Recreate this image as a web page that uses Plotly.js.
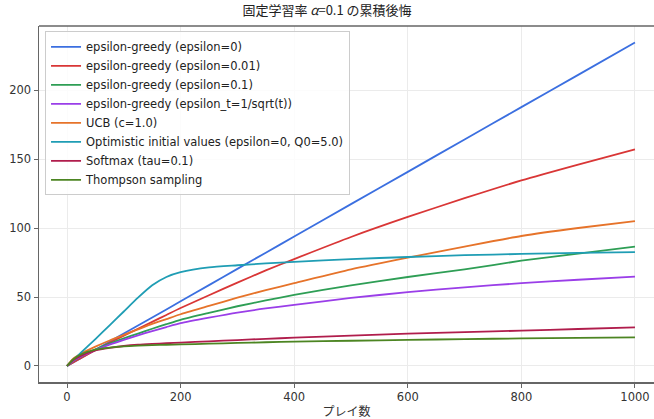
<!DOCTYPE html>
<html>
<head>
<meta charset="utf-8">
<script src="https://cdn.plot.ly/plotly-3.0.1.min.js"></script>
<style>html,body{margin:0;padding:0;background:#fff}#chart{width:654px;height:419px}</style>
</head>
<body>
<div id="chart"></div>
<script>
const plays = [0,10,25,50,75,100,125,150,175,200,250,300,350,400,500,600,700,800,900,1000];

const greedy0     = [0,2.4,5.9,11.7,17.6,23.5,29.3,35.2,41.0,46.9,58.6,70.4,82.1,93.8,117.3,140.7,164.2,187.6,211.0,234.5];
const greedy001   = [0,2.4,5.8,11.4,16.8,22.0,27.0,32.0,37.0,42.0,51.3,60.4,69.3,77.5,93.5,108.0,121.6,134.5,146.0,157.0];
const greedy01    = [0,3.5,7.0,12.0,16.2,20.0,23.5,27.0,30.3,33.5,38.5,43.3,47.5,51.5,58.5,64.5,70.0,76.3,81.5,86.5];
const greedySqrt  = [0,3.5,7.0,11.5,15.5,19.0,22.2,25.3,28.2,31.0,35.0,38.7,41.7,44.3,49.3,53.5,57.0,60.0,62.5,64.7];
const ucb         = [0,5.0,9.0,14.0,18.5,22.5,26.5,30.5,34.0,37.5,43.5,49.5,55.0,60.0,70.0,78.5,86.5,94.2,100.0,105.0];
const optimistic  = [0,3.9,9.8,19.5,29.5,39.5,49.5,58.5,64.5,68.0,71.5,73.0,74.3,75.5,77.5,79.0,80.3,81.2,82.0,82.5];
const softmax     = [0,4.0,7.5,11.3,13.2,14.5,15.4,16.0,16.5,17.0,17.9,18.8,19.7,20.5,22.0,23.4,24.6,25.6,26.8,28.0];
const thompson    = [0,4.5,8.5,11.8,13.3,14.2,14.7,15.1,15.4,15.6,16.2,16.7,17.2,17.6,18.3,18.9,19.5,20.0,20.4,20.8];

const names = [
  "epsilon-greedy (epsilon=0)",
  "epsilon-greedy (epsilon=0.01)",
  "epsilon-greedy (epsilon=0.1)",
  "epsilon-greedy (epsilon_t=1/sqrt(t))",
  "UCB (c=1.0)",
  "Optimistic initial values (epsilon=0, Q0=5.0)",
  "Softmax (tau=0.1)",
  "Thompson sampling"
];
const series = [greedy0, greedy001, greedy01, greedySqrt, ucb, optimistic, softmax, thompson];
const colors = ["#3b6fe0","#d93636","#2e9e55","#9a3ee8","#e6732a","#1f9db4","#b01d4c","#4c8522"];

const cjk = "Noto Sans CJK JP, Noto Sans, sans-serif";
const latin = "DejaVu Sans, Noto Sans CJK JP, sans-serif";
const traces = series.map((ys, i) => ({
  x: plays, y: ys, type: "scatter", mode: "lines", name: names[i],
  line: {color: colors[i], width: 1.8, shape: "spline", smoothing: 0.6}
}));

const layout = {
  width: 654, height: 419,
  margin: {l: 39, r: 0, t: 26, b: 37},
  paper_bgcolor: "#fff", plot_bgcolor: "#fff",
  font: {family: latin, size: 12, color: "#333"},
  title: {text: "固定学習率 <i>α</i>=0.1 の累積後悔", font: {family: cjk, size: 13, color: "#222"}, x: 0.5, xanchor: "center", y: 0.985, yanchor: "top"},
  xaxis: {
    range: [-49.3, 1033.5], tickvals: [0,200,400,600,800,1000],
    showgrid: true, gridcolor: "#ebebeb", gridwidth: 1, zeroline: false,
    showline: true, linecolor: "#666", linewidth: 1.5,
    ticks: "outside", ticklen: 4, tickcolor: "#666",
    tickfont: {family: latin, size: 11.5, color: "#333"},
    title: {text: "プレイ数", font: {family: cjk, size: 12, color: "#333"}, standoff: 4}
  },
  yaxis: {
    range: [-11.6, 246.4], tickvals: [0,50,100,150,200],
    showgrid: true, gridcolor: "#ebebeb", gridwidth: 1, zeroline: false,
    showline: true, linecolor: "#666", linewidth: 1.5,
    ticks: "outside", ticklen: 4, tickcolor: "#666",
    tickfont: {family: latin, size: 11.5, color: "#333"}
  },
  shapes: [{type: "line", xref: "paper", yref: "paper", x0: 0, x1: 1, y0: 1, y1: 1, line: {color: "#666", width: 1.5}}],
  legend: {
    x: 0.0098, y: 0.985, xanchor: "left", yanchor: "top",
    bgcolor: "rgba(255,255,255,0.85)", bordercolor: "#cccccc", borderwidth: 1,
    font: {family: latin, size: 11.5, color: "#222"}, tracegroupgap: 0
  },
  showlegend: true
};

Plotly.newPlot("chart", traces, layout, {staticPlot: true, displayModeBar: false});
</script>
</body>
</html>
